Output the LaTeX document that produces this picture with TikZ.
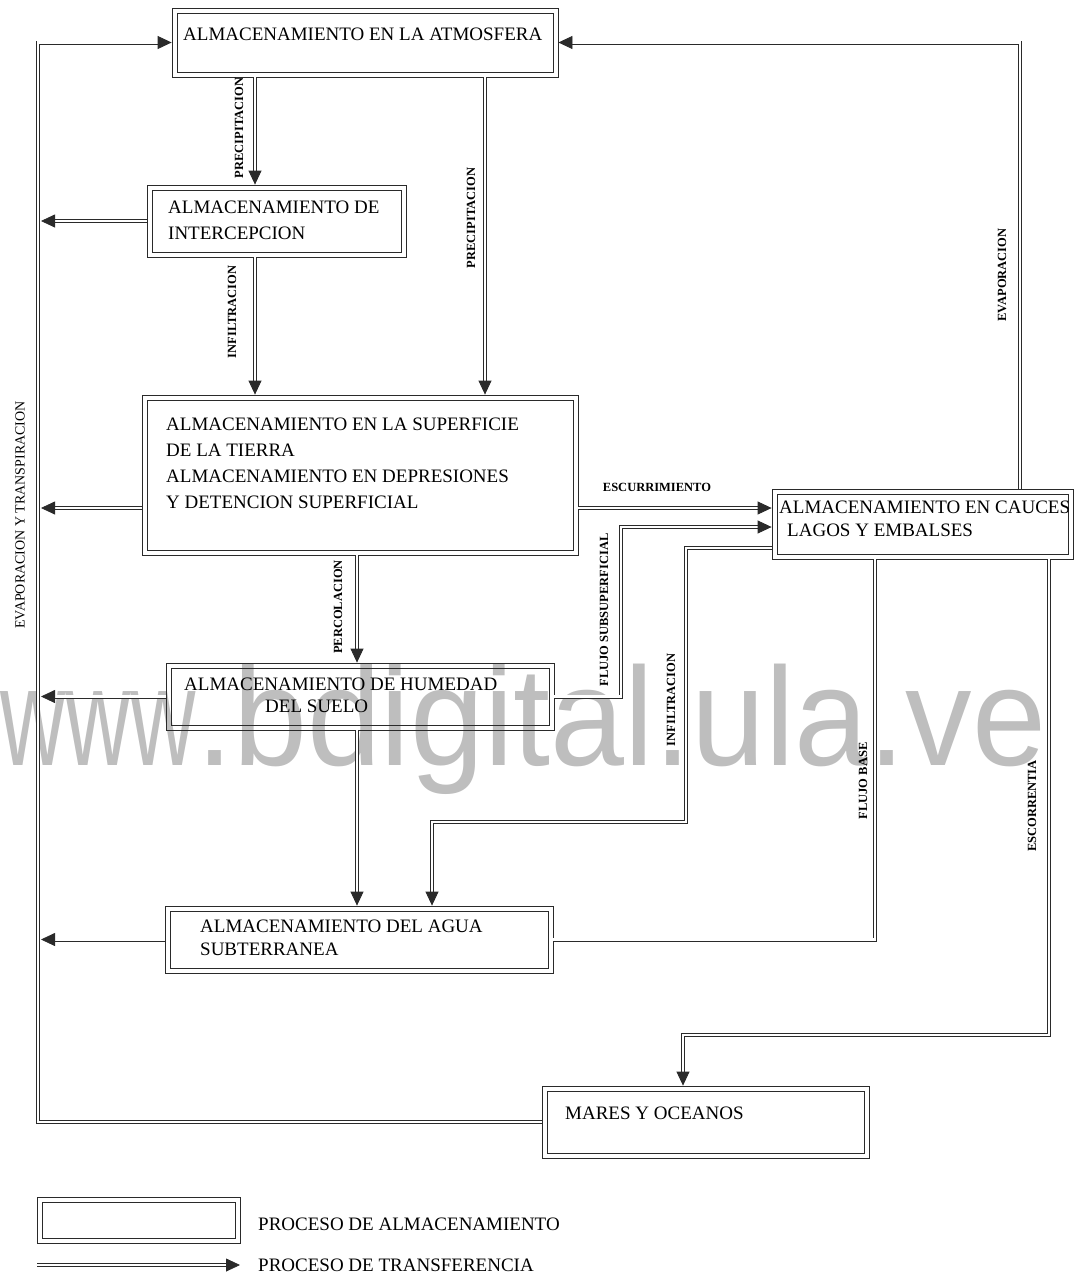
\documentclass[tikz,border=0pt]{standalone}
\usepackage{fontspec}
\usepackage{graphicx}
\setmainfont{Liberation Serif}
\newfontfamily\wmfont{Liberation Sans}
\usetikzlibrary{arrows.meta}
\definecolor{wmgray}{HTML}{BEBEBE}
\definecolor{ink}{HTML}{2A2A2A}
\tikzset{
  storebox/.style={draw=ink, line width=0.8pt, inner sep=0pt, outer sep=0.4pt,
    path picture={\draw[ink, line width=0.8pt]
      ([shift={(5pt,5pt)}]path picture bounding box.south west) rectangle
      ([shift={(-5pt,-5pt)}]path picture bounding box.north east);}},
  conn/.style={draw=ink, double=white, line width=0.8pt, double distance=2.4pt},
  arrowtip/.style={-{Triangle[length=14pt,width=13pt]}},
  btxt/.style={anchor=base west, inner sep=0pt, text height=13pt, text depth=0pt, text=black, font=\fontsize{19}{23}\selectfont},
  lbl/.style={rotate=90, inner sep=0pt, text=black, font=\bfseries\fontsize{12.5}{14}\selectfont},
  wm/.style={anchor=base west, inner sep=0pt, text=wmgray, xscale=0.95, font=\wmfont\fontsize{140}{150}\selectfont}
}
\begin{document}
\begin{tikzpicture}[x=1pt,y=-1pt]
\useasboundingbox (0,0) rectangle (1076,1277);
% watermark
\node[wm] (wmark) at (0,765) {\scalebox{0.68}[1]{www}.bdigital.ula.ve};
% storage boxes
\node[storebox, minimum width=386pt, minimum height=69pt] (atm) at (365,42.5) {};
\node[storebox, minimum width=259pt, minimum height=72pt] (int) at (276.5,221) {};
\node[storebox, minimum width=436pt, minimum height=160pt] (sup) at (360,475) {};
\node[storebox, minimum width=301pt, minimum height=70pt] (cau) at (922.5,524) {};
\node[storebox, minimum width=388pt, minimum height=67pt] (hum) at (360,696.5) {};
\node[storebox, minimum width=388pt, minimum height=67pt] (sub) at (359,939.5) {};
\node[storebox, minimum width=327pt, minimum height=72pt] (mar) at (705.5,1122) {};
\node[storebox, minimum width=203pt, minimum height=46pt] (leg) at (138.5,1220) {};
% box texts
\node[btxt] (tatm) at (183,40) {ALMACENAMIENTO EN LA ATMOSFERA};
\node[btxt] (tint1) at (168,213) {ALMACENAMIENTO DE};
\node[btxt] (tint2) at (168,239) {INTERCEPCION};
\node[btxt] (tsup1) at (166,430) {ALMACENAMIENTO EN LA SUPERFICIE};
\node[btxt] (tsup2) at (166,456) {DE LA TIERRA};
\node[btxt] (tsup3) at (166,482) {ALMACENAMIENTO EN DEPRESIONES};
\node[btxt] (tsup4) at (166,508) {Y DETENCION SUPERFICIAL};
\node[btxt] (tcau1) at (779,513) {ALMACENAMIENTO EN CAUCES};
\node[btxt] (tcau2) at (787,536) {LAGOS Y EMBALSES};
\node[btxt] (thum1) at (184,690) {ALMACENAMIENTO DE HUMEDAD};
\node[btxt] (thum2) at (265,712) {DEL SUELO};
\node[btxt] (tsub1) at (200,932) {ALMACENAMIENTO DEL AGUA};
\node[btxt] (tsub2) at (200,955) {SUBTERRANEA};
\node[btxt] (tmar) at (565,1119) {MARES Y OCEANOS};
\node[btxt] (tleg1) at (258,1230) {PROCESO DE ALMACENAMIENTO};
\node[btxt] (tleg2) at (258,1271) {PROCESO DE TRANSFERENCIA};
% helper coordinates
\coordinate (xL) at (38,0);
\coordinate (xLa) at (41,0);
\coordinate (xR) at (1020,0);
\coordinate (xP1) at (255,0);
\coordinate (xP2) at (485,0);
\coordinate (xPc) at (357,0);
\coordinate (xFS) at (621,0);
\coordinate (xI2) at (686,0);
\coordinate (xI3) at (432,0);
\coordinate (xFB) at (875,0);
\coordinate (xEs) at (1049,0);
\coordinate (xM) at (683,0);
\coordinate (yEsc) at (0,508);
\coordinate (yFS) at (0,527);
\coordinate (yIn) at (0,548);
\coordinate (yIb) at (0,822);
\coordinate (yEs) at (0,1035);
\coordinate (la1) at (37,1265);
\coordinate (la2) at (240,1265);
% connectors
\draw[conn, arrowtip] (mar.west) -- (mar.west -| xL) -- (atm.west -| xL) -- (atm.west);
\draw[conn, arrowtip] (cau.north -| xR) -- (atm.east -| xR) -- (atm.east);
\draw[conn, arrowtip] (atm.south -| xP1) -- (int.north -| xP1);
\draw[conn, arrowtip] (atm.south -| xP2) -- (sup.north -| xP2);
\draw[conn, arrowtip] (int.west) -- (int.west -| xLa);
\draw[conn, arrowtip] (int.south -| xP1) -- (sup.north -| xP1);
\draw[conn, arrowtip] (sup.west |- yEsc) -- (xLa |- yEsc);
\draw[conn, arrowtip] (sup.east |- yEsc) -- (cau.west |- yEsc);
\draw[conn, arrowtip] (sup.south -| xPc) -- (hum.north -| xPc);
\draw[conn, arrowtip] (hum.west) -- (hum.west -| xLa);
\draw[conn, arrowtip] (hum.east) -- (hum.east -| xFS) -- (xFS |- yFS) -- (cau.west |- yFS);
\draw[conn, arrowtip] (hum.south -| xPc) -- (sub.north -| xPc);
\draw[conn, arrowtip] (cau.west |- yIn) -- (xI2 |- yIn) -- (xI2 |- yIb) -- (xI3 |- yIb) -- (sub.north -| xI3);
\draw[conn, arrowtip] (sub.west) -- (sub.west -| xLa);
\draw[conn] (cau.south -| xFB) -- (xFB |- sub.east) -- (sub.east);
\draw[conn, arrowtip] (cau.south -| xEs) -- (xEs |- yEs) -- (xM |- yEs) -- (mar.north -| xM);
\draw[conn, arrowtip] (la1) -- (la2);
% connector labels
\node[lbl] (lp1) at (239,128) {PRECIPITACION};
\node[lbl] (lp2) at (471,218) {PRECIPITACION};
\node[lbl] (li1) at (232,312) {INFILTRACION};
\node[lbl] (lev) at (1002,275) {EVAPORACION};
\node[rotate=90, inner sep=0pt, font=\fontsize{14}{16}\selectfont] (levt) at (20,515) {EVAPORACION Y TRANSPIRACION};
\node[lbl] (lpc) at (338,607) {PERCOLACION};
\node[lbl] (lfs) at (604,610) {FLUJO SUBSUPERFICIAL};
\node[lbl] (li2) at (671,700) {INFILTRACION};
\node[lbl] (lfb) at (863,781) {FLUJO BASE};
\node[lbl] (les) at (1032,806) {ESCORRENTIA};
\node[inner sep=0pt, text=black, font=\bfseries\fontsize{12.5}{14}\selectfont] (lesc) at (657,487) {ESCURRIMIENTO};
\end{tikzpicture}
\end{document}
